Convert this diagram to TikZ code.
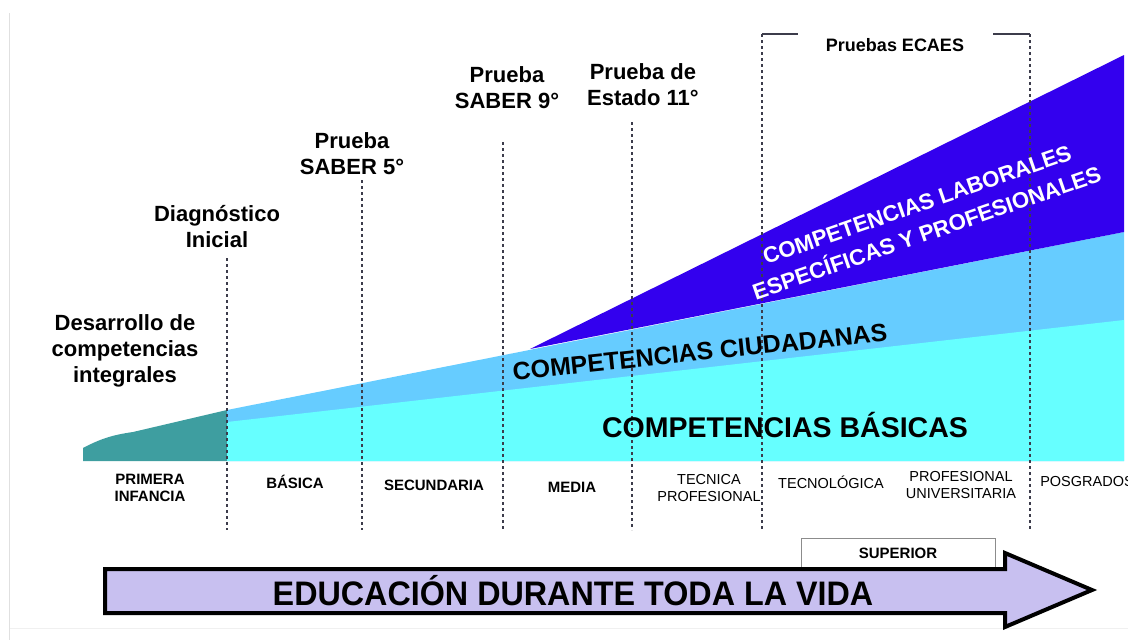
\documentclass[tikz,border=0pt]{standalone}
\usepackage{fontspec}
\setmainfont{Liberation Sans}
\usepackage{tikz}
\usetikzlibrary{positioning,calc}

\definecolor{tealband}{RGB}{62,158,160}
\definecolor{cyanband}{RGB}{102,255,255}
\definecolor{skyband}{RGB}{102,204,255}
\definecolor{laborband}{RGB}{51,0,238}
\definecolor{arrowfill}{RGB}{200,192,240}
\definecolor{sepline}{RGB}{60,60,75}

\begin{document}
\begin{tikzpicture}[
    x=1pt, y=-1pt,
    sep/.style={draw=sepline, line width=1.1pt, dash pattern=on 3pt off 3pt},
    prueba/.style={font=\bfseries\fontsize{22}{26}\selectfont, align=center, inner sep=0pt},
    nivel/.style={font=\bfseries\fontsize{15}{17}\selectfont, align=center, inner sep=0pt},
    nivelr/.style={font=\fontsize{14.5}{17}\selectfont, align=center, inner sep=0pt},
    compet/.style={font=\bfseries\fontsize{#1}{26}\selectfont, align=center, inner sep=0pt}
]
    \useasboundingbox (0,0) rectangle (1128,640);
    \draw[black!12, line width=1.5pt] (9.5,13) -- (9.5,640);
    \draw[black!6, line width=1pt] (9.5,628) -- (1128,628);

    % bandas
    \fill[tealband] (83,461) -- (83,448) .. controls (100,439) and (112,435) .. (133,432) -- (227,410) -- (227,461) -- cycle;
    \fill[skyband] (227,461) -- (227,410) -- (1124,232) -- (1124,461) -- cycle;
    \fill[cyanband] (227,461) -- (227,422) -- (1124,320) -- (1124,461) -- cycle;
    \fill[laborband] (530,349) -- (1124,55) -- (1124,232) -- cycle;

    % separadores
    \foreach \x/\top in {227/258, 362/180, 503/142, 632/122, 762/34, 1030/34}
        \draw[sep] (\x,\top) -- (\x,530);
    \draw[sepline, line width=1.3pt] (762,34) -- (798,34);
    \draw[sepline, line width=1.3pt] (993,34) -- (1030,34);

    % pruebas
    \node[prueba] (integral) at (125,351) {Desarrollo de\\competencias\\integrales};
    \node[prueba] (diag) at (217,227) {Diagnóstico\\Inicial};
    \node[prueba] (saber5) at (352,154) {Prueba\\SABER 5°};
    \node[prueba] (saber9) at (507,88) {Prueba\\SABER 9°};
    \node[prueba] (estado) at (643,85) {Prueba de\\Estado 11°};
    \node[prueba, font=\bfseries\fontsize{18}{20}\selectfont] (ecaes) at (895,45) {Pruebas ECAES};

    % competencias
    \node[compet=28.5] (basicas) at (785,425) {COMPETENCIAS BÁSICAS};
    \node[compet=25, rotate=6] (ciudad) at (700,352) {COMPETENCIAS CIUDADANAS};
    \node[compet=22.3, rotate=19, text=white] (laboral) at (922,219) {COMPETENCIAS LABORALES\\[4pt]ESPECÍFICAS Y PROFESIONALES};

    % niveles
    \foreach \x/\yy/\txt [count=\i] in {150/488/{PRIMERA\\INFANCIA}, 295/482/BÁSICA, 434/485/SECUNDARIA, 572/487/MEDIA}
        \node[nivel] (nivel\i) at (\x,\yy) {\txt};
    \foreach \x/\yy/\txt [count=\i] in {709/488/{TECNICA\\PROFESIONAL}, 831/482/TECNOLÓGICA, 961/485/{PROFESIONAL\\UNIVERSITARIA}, 1087/482/POSGRADOS}
        \node[nivelr] (sup\i) at (\x,\yy) {\txt};

    % superior y flecha
    \draw[black!45, fill=white, line width=0.8pt] (801,538) rectangle (995,569);
    \node[nivel, font=\bfseries\fontsize{15}{17}\selectfont] (superior) at (898,553) {SUPERIOR};
    \draw[line width=4pt, fill=arrowfill, line join=miter]
        (105,569) -- (1005,569) -- (1005,553) -- (1092,590) -- (1005,627) -- (1005,613) -- (105,613) -- cycle;
    \node[inner sep=0pt] (vida) at (573,591) {\scalebox{0.95}[1]{\bfseries\fontsize{34}{34}\selectfont EDUCACIÓN DURANTE TODA LA VIDA}};
\end{tikzpicture}
\end{document}
